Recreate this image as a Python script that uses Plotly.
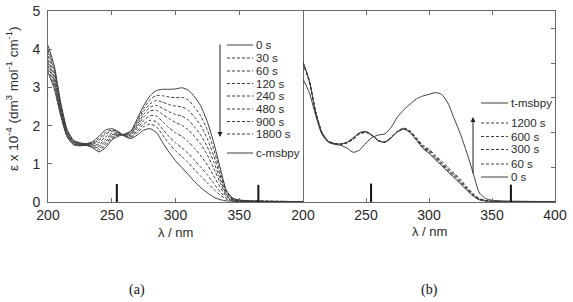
import plotly.graph_objects as go

W, H = 573, 302

# ---------------- data ----------------
wavelength = [200, 205, 210, 215, 220, 225, 230, 235, 240, 245, 250, 255, 260, 265, 270,
              275, 280, 285, 290, 295, 300, 305, 310, 315, 320, 325, 330, 335, 340, 345,
              350, 360, 375, 400]

# panel (a): irradiation of trans form (0 s) towards cis (c-msbpy)
a_0s = [3.40, 2.95, 2.25, 1.70, 1.50, 1.47, 1.48, 1.42, 1.31, 1.42, 1.62, 1.72, 1.78, 1.86, 2.18,
        2.52, 2.78, 2.92, 2.95, 2.95, 2.96, 2.99, 2.93, 2.75, 2.50, 2.10, 1.55, 0.90, 0.30, 0.10,
        0.05, 0.03, 0.02, 0.01]
a_30s = [3.48, 3.02, 2.29, 1.72, 1.51, 1.48, 1.49, 1.44, 1.36, 1.48, 1.66, 1.74, 1.77, 1.84, 2.13,
         2.44, 2.68, 2.79, 2.78, 2.75, 2.73, 2.74, 2.67, 2.48, 2.24, 1.88, 1.38, 0.80, 0.27, 0.09,
         0.05, 0.03, 0.02, 0.01]
a_60s = [3.57, 3.09, 2.33, 1.75, 1.53, 1.49, 1.49, 1.46, 1.41, 1.53, 1.69, 1.75, 1.77, 1.81, 2.08,
         2.37, 2.57, 2.66, 2.61, 2.55, 2.51, 2.49, 2.40, 2.22, 1.99, 1.65, 1.21, 0.70, 0.24, 0.08,
         0.04, 0.03, 0.02, 0.01]
a_120s = [3.65, 3.16, 2.37, 1.77, 1.54, 1.50, 1.50, 1.48, 1.46, 1.58, 1.73, 1.77, 1.76, 1.79, 2.03,
          2.29, 2.48, 2.53, 2.45, 2.36, 2.29, 2.25, 2.15, 1.96, 1.74, 1.44, 1.05, 0.60, 0.20, 0.07,
          0.04, 0.02, 0.01, 0.01]
a_240s = [3.73, 3.23, 2.41, 1.79, 1.56, 1.51, 1.50, 1.50, 1.50, 1.64, 1.76, 1.78, 1.75, 1.77, 1.98,
          2.22, 2.38, 2.40, 2.29, 2.18, 2.08, 2.01, 1.89, 1.71, 1.50, 1.23, 0.88, 0.51, 0.17, 0.06,
          0.03, 0.02, 0.01, 0.01]
a_480s = [3.83, 3.32, 2.46, 1.82, 1.57, 1.52, 1.51, 1.52, 1.56, 1.70, 1.80, 1.80, 1.74, 1.74, 1.92,
          2.13, 2.26, 2.25, 2.10, 1.94, 1.81, 1.72, 1.58, 1.40, 1.20, 0.97, 0.68, 0.39, 0.14, 0.05,
          0.03, 0.02, 0.01, 0.00]
a_900s = [3.93, 3.40, 2.51, 1.85, 1.59, 1.53, 1.52, 1.54, 1.62, 1.77, 1.85, 1.82, 1.74, 1.71, 1.86,
          2.04, 2.14, 2.10, 1.90, 1.71, 1.55, 1.42, 1.27, 1.09, 0.90, 0.71, 0.49, 0.27, 0.10, 0.04,
          0.02, 0.01, 0.01, 0.00]
a_1800s = [4.00, 3.47, 2.55, 1.87, 1.60, 1.54, 1.52, 1.56, 1.66, 1.82, 1.88, 1.83, 1.73, 1.69, 1.81,
           1.97, 2.04, 1.97, 1.75, 1.53, 1.34, 1.19, 1.03, 0.84, 0.67, 0.50, 0.33, 0.18, 0.07, 0.03,
           0.02, 0.01, 0.01, 0.00]
a_cmsbpy = [4.10, 3.55, 2.60, 1.90, 1.62, 1.55, 1.53, 1.58, 1.72, 1.88, 1.92, 1.85, 1.72, 1.66, 1.75,
            1.88, 1.92, 1.82, 1.55, 1.30, 1.08, 0.90, 0.72, 0.53, 0.37, 0.24, 0.13, 0.06, 0.03, 0.02,
            0.01, 0.01, 0.00, 0.00]

# panel (b): irradiation of cis form
b_0s = [4.03, 3.50, 2.60, 2.00, 1.75, 1.68, 1.67, 1.72, 1.85, 2.00, 2.03, 1.92, 1.76, 1.72, 1.85,
        2.02, 2.10, 2.00, 1.78, 1.55, 1.40, 1.22, 1.05, 0.87, 0.70, 0.52, 0.34, 0.17, 0.06, 0.03,
        0.02, 0.01, 0.01, 0.00]
b_60s = [4.02, 3.49, 2.60, 2.00, 1.75, 1.68, 1.67, 1.72, 1.84, 1.99, 2.02, 1.92, 1.76, 1.72, 1.85,
         2.02, 2.10, 2.01, 1.80, 1.57, 1.43, 1.25, 1.08, 0.90, 0.73, 0.55, 0.36, 0.19, 0.07, 0.03,
         0.02, 0.01, 0.01, 0.00]
b_300s = [4.01, 3.48, 2.59, 2.00, 1.75, 1.68, 1.67, 1.71, 1.83, 1.98, 2.01, 1.91, 1.76, 1.72, 1.85,
          2.03, 2.11, 2.02, 1.82, 1.59, 1.46, 1.28, 1.11, 0.93, 0.76, 0.58, 0.38, 0.21, 0.08, 0.04,
          0.02, 0.01, 0.01, 0.00]
b_600s = [4.00, 3.47, 2.59, 1.99, 1.75, 1.68, 1.66, 1.71, 1.82, 1.97, 2.01, 1.91, 1.76, 1.73, 1.86,
          2.03, 2.12, 2.03, 1.83, 1.61, 1.49, 1.31, 1.14, 0.96, 0.79, 0.61, 0.40, 0.22, 0.09, 0.04,
          0.02, 0.01, 0.01, 0.00]
b_1200s = [3.99, 3.46, 2.58, 1.99, 1.75, 1.68, 1.66, 1.70, 1.81, 1.96, 2.00, 1.91, 1.77, 1.73, 1.87,
           2.04, 2.13, 2.05, 1.85, 1.64, 1.52, 1.35, 1.18, 1.00, 0.83, 0.65, 0.43, 0.24, 0.10, 0.05,
           0.03, 0.01, 0.01, 0.00]
b_tmsbpy = [3.54, 3.15, 2.50, 1.95, 1.72, 1.66, 1.63, 1.55, 1.43, 1.50, 1.70, 1.86, 1.93, 1.96, 2.15,
            2.45, 2.65, 2.82, 2.97, 3.05, 3.10, 3.15, 3.10, 2.85, 2.40, 1.95, 1.42, 0.84, 0.26, 0.10,
            0.05, 0.03, 0.02, 0.01]

# lamp lines (irradiation wavelengths)
lamp_nm = [254, 365]
lamp_height_a = [0.47, 0.45]
lamp_height_b = [0.53, 0.50]

legend_a_labels = ["0 s", "30 s", "60 s", "120 s", "240 s", "480 s", "900 s", "1800 s", "c-msbpy"]
legend_b_labels = ["t-msbpy", "1200 s", "600 s", "300 s", "60 s", "0 s"]
x_ticks = [200, 250, 300, 350, 400]
y_ticks_a = [0, 1, 2, 3, 4, 5]
y_ticks_b = [1, 2, 3, 4, 5]

# ---------------- styling ----------------
CURVE = "#3c3c3c"
AXIS = "#6a6a6a"
TXT = "#2a2a2a"
DASH = "3px,2px"
FONT = "Liberation Sans, Arial, sans-serif"

series_a = [
    (a_30s, DASH), (a_60s, DASH), (a_120s, DASH), (a_240s, DASH), (a_480s, DASH),
    (a_900s, DASH), (a_1800s, DASH), (a_cmsbpy, "solid"), (a_0s, "solid"),
]
series_b = [
    (b_60s, DASH), (b_300s, DASH), (b_600s, DASH), (b_1200s, DASH),
    (b_0s, "solid"), (b_tmsbpy, "solid"),
]

fig = go.Figure()
for vals, dash in series_a:
    fig.add_trace(go.Scatter(x=wavelength, y=vals, mode="lines", xaxis="x", yaxis="y",
                             line=dict(color=CURVE, width=1, dash=dash, shape="spline", smoothing=0.6),
                             showlegend=False, hoverinfo="skip"))
for vals, dash in series_b:
    fig.add_trace(go.Scatter(x=wavelength, y=vals, mode="lines", xaxis="x2", yaxis="y2",
                             line=dict(color=CURVE, width=1, dash=dash, shape="spline", smoothing=0.6),
                             showlegend=False, hoverinfo="skip"))


def bars(xs, hs):
    bx, by = [], []
    for x, h in zip(xs, hs):
        bx += [x, x, None]
        by += [0, h, None]
    return bx, by


bx, by = bars(lamp_nm, lamp_height_a)
fig.add_trace(go.Scatter(x=bx, y=by, mode="lines", xaxis="x", yaxis="y",
                         line=dict(color="#111", width=2), showlegend=False, hoverinfo="skip"))
bx, by = bars(lamp_nm, lamp_height_b)
fig.add_trace(go.Scatter(x=bx, y=by, mode="lines", xaxis="x2", yaxis="y2",
                         line=dict(color="#111", width=2), showlegend=False, hoverinfo="skip"))

# ---------------- layout ----------------
def px(x):
    return x / W


def py(y):
    return 1 - y / H


dom_a = [px(48), px(303)]
dom_b = [px(303), px(555)]
dom_y = [py(202), py(11)]

axis_common = dict(showgrid=False, zeroline=False, showline=True, linecolor=AXIS, linewidth=1,
                   ticks="inside", ticklen=4, tickcolor=AXIS, tickwidth=1,
                   tickfont=dict(family=FONT, size=14, color=TXT), automargin=False)

fig.update_layout(
    width=W, height=H, margin=dict(l=0, r=0, t=0, b=0, pad=0),
    paper_bgcolor="white", plot_bgcolor="white",
    xaxis=dict(domain=dom_a, range=[200, 400], anchor="y", mirror="ticks",
               tickvals=x_ticks, ticktext=[str(v) for v in x_ticks[:-1]] + [""], **axis_common),
    yaxis=dict(domain=dom_y, range=[0, 5], anchor="x", mirror=True, ticklabelstandoff=4,
               tickvals=y_ticks_a, **axis_common),
    xaxis2=dict(domain=dom_b, range=[200, 400], anchor="y2", mirror="ticks",
                tickvals=x_ticks, **axis_common),
    yaxis2=dict(domain=dom_y, range=[0, 5.5], anchor="x2", side="right", mirror=False,
                tickvals=y_ticks_b, showticklabels=False, **axis_common),
)

shapes = []
annotations = []

# legend (a)
leg_a_y = [45, 58, 71, 83.5, 96, 109, 121.5, 134, 153]
leg_a_dash = ["solid"] + ["dash"] * 7 + ["solid"]
for lab, yy, d in zip(legend_a_labels, leg_a_y, leg_a_dash):
    shapes.append(dict(type="line", xref="paper", yref="paper", x0=px(227), x1=px(253),
                       y0=py(yy), y1=py(yy), line=dict(color=CURVE, width=1,
                                                       dash="solid" if d == "solid" else "3px,2px")))
    annotations.append(dict(text=lab, xref="paper", yref="paper", x=px(254), y=py(yy),
                            xanchor="left", yanchor="middle", showarrow=False,
                            font=dict(family=FONT, size=11.5, color=TXT)))
annotations.append(dict(xref="paper", yref="paper", axref="pixel", ayref="pixel",
                        x=px(220), y=py(137), ax=0, ay=-94, text="", showarrow=True,
                        arrowhead=2, arrowsize=1, arrowwidth=1, arrowcolor="#222"))

# legend (b)
leg_b_y = [103, 123, 136.5, 149.5, 164, 177]
leg_b_dash = ["solid", "dash", "dash", "dash", "dash", "solid"]
for lab, yy, d in zip(legend_b_labels, leg_b_y, leg_b_dash):
    shapes.append(dict(type="line", xref="paper", yref="paper", x0=px(481), x1=px(508),
                       y0=py(yy), y1=py(yy), line=dict(color=CURVE, width=1,
                                                       dash="solid" if d == "solid" else "3px,2px")))
    annotations.append(dict(text=lab, xref="paper", yref="paper", x=px(509), y=py(yy),
                            xanchor="left", yanchor="middle", showarrow=False,
                            font=dict(family=FONT, size=11.5, color=TXT)))
annotations.append(dict(xref="paper", yref="paper", axref="pixel", ayref="pixel",
                        x=px(473), y=py(117), ax=0, ay=58, text="", showarrow=True,
                        arrowhead=2, arrowsize=1, arrowwidth=1, arrowcolor="#222"))

# axis titles and panel labels
annotations.append(dict(text="ε x 10<sup>-4</sup> (dm<sup>3</sup> mol<sup>-1</sup> cm<sup>-1</sup>)",
                        xref="paper", yref="paper", x=px(12), y=py(99), textangle=-90,
                        xanchor="center", yanchor="middle", showarrow=False,
                        font=dict(family=FONT, size=13.5, color=TXT)))
annotations.append(dict(text="λ / nm", xref="paper", yref="paper", x=px(175), y=py(232),
                        xanchor="center", yanchor="middle", showarrow=False,
                        font=dict(family=FONT, size=13, color=TXT)))
annotations.append(dict(text="λ / nm", xref="paper", yref="paper", x=px(429), y=py(231),
                        xanchor="center", yanchor="middle", showarrow=False,
                        font=dict(family=FONT, size=13, color=TXT)))
annotations.append(dict(text="(a)", xref="paper", yref="paper", x=px(137), y=py(290),
                        xanchor="center", yanchor="middle", showarrow=False,
                        font=dict(family="Liberation Serif, Times New Roman, serif", size=14, color="#111")))
annotations.append(dict(text="(b)", xref="paper", yref="paper", x=px(429), y=py(290),
                        xanchor="center", yanchor="middle", showarrow=False,
                        font=dict(family="Liberation Serif, Times New Roman, serif", size=14, color="#111")))

fig.update_layout(shapes=shapes, annotations=annotations)
fig.write_html("out.html")
